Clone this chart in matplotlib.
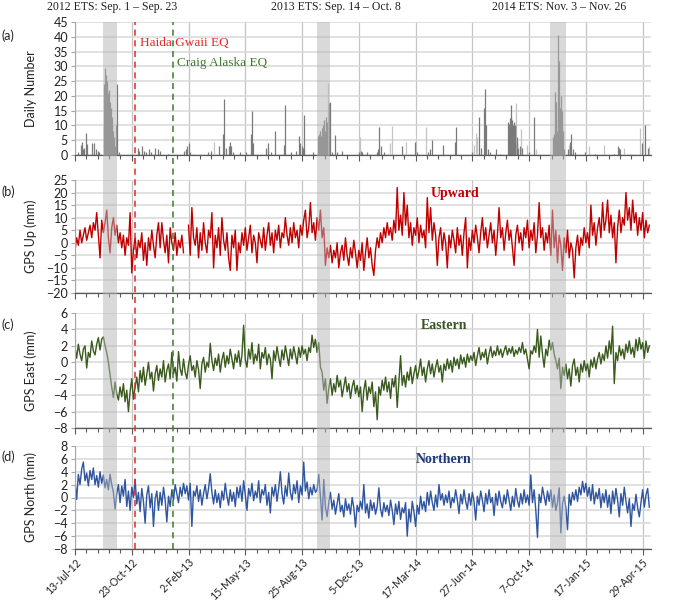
import numpy as np
import pandas as pd
import matplotlib
matplotlib.use("Agg")
import matplotlib.pyplot as plt
from matplotlib.ticker import FixedLocator, NullFormatter

start = pd.Timestamp("2012-07-13")
end_day = 1035

# tremor daily number, (day after 13-Jul-12, count)
tremor_days = [5, 10, 13, 15, 17, 19, 22, 30, 34, 37, 42, 44,
               52, 53, 54, 55, 56, 57, 58, 59, 60, 61, 62, 63, 64, 65, 66, 67, 68, 69, 70, 71, 73, 76, 79,
               103, 114, 115, 121, 124, 127, 133, 136, 144, 150, 152, 168, 196, 199, 202, 204, 206,
               239, 244, 259, 266, 267, 272, 277, 279, 281, 284, 296, 307, 317, 318, 320,
               344, 346, 347, 353, 359, 375, 377, 388, 398, 403, 405, 407, 409, 411, 412, 427,
               436, 438, 440, 442, 444, 446, 448, 449, 451, 453, 456, 458,
               462, 468, 471, 479, 510, 514, 516, 525, 542, 544, 546, 549, 555, 587, 611, 614,
               635, 638, 642, 662, 682, 685, 714, 726, 729, 735, 737, 739, 742, 745, 756, 764,
               778, 779, 780, 782, 783, 784, 785, 786, 787, 788, 789, 790, 791, 794, 795, 796,
               799, 803, 815, 824,
               859, 861, 863, 864, 865, 866, 868, 869, 870, 871, 872, 873, 875, 876, 878,
               886, 890, 892, 894, 899, 917, 934, 968, 976, 978, 980, 1018, 1025, 1029]
tremor_counts = [1, 3.5, 4.5, 2, 2.5, 7.3, 3.7, 4, 4, 2, 1.5, 1,
                 10, 24, 29.5, 27, 23, 25, 22, 21, 18, 22, 15, 18, 12, 16, 10, 13, 8, 5, 6, 3, 10, 24, 1,
                 0.5, 2.5, 1.5, 3, 1.5, 1, 2, 1, 2.5, 2, 1.5, 0.5, 1.5, 2, 3, 4, 1,
                 1, 1.5, 3, 7, 19, 2.5, 3, 4.5, 3, 1, 1, 1, 7, 15, 4,
                 2.5, 4, 1.5, 1, 8, 3.5, 17, 1, 1.5, 6.5, 4, 3, 2.5, 13.5, 2, 1,
                 6.5, 7, 8, 6.5, 9, 10, 12, 8, 13, 11, 17.5, 18,
                 1, 6.8, 1, 1.5, 1, 1.5, 1, 1, 1, 2, 9.5, 3, 1, 3, 4.5, 1,
                 1, 2, 5, 3.5, 4.5, 9.5, 1, 13, 2.5, 16, 22.5, 10, 2, 1, 2, 0.5,
                 11, 7, 10.5, 12.5, 17, 13, 7, 12, 10, 8, 11, 9.8, 10, 6, 4, 2.5,
                 3, 2.5, 1, 12.8,
                 6.2, 7, 21.3, 18, 15, 8, 40.5, 6, 31.8, 16, 9, 20, 15, 8, 2,
                 2, 4.5, 7, 2, 1, 1, 0.5, 0.5, 3, 2.5, 2, 4, 10.3, 2.5]
# paler bars
tremor_light_days = [250, 454, 512, 566, 570, 595, 630, 717, 720, 723, 793, 801, 813, 829,
                     888, 924, 950, 987, 1016, 1032]
tremor_light_counts = [4.5, 24.4, 6, 4, 9.9, 4.5, 9.5, 3.5, 7.5, 6, 17.5, 8.9, 3.5, 2,
                       3.5, 3, 3.5, 2.5, 9, 3]

# GPS daily solutions, read every 3 days from 13-Jul-12 (mm)
gps_step = 3
gps_up = [
    -3, 2, -1, 5, 0, 3, 6, 1, 4, 7, 2, 8, 5, 12, 3, -6, 9,
    4, 8, 13, 2, -4, 6, 10, 3, 7, 0, 4, -2, 3, -5, 2, -1, 12,
    -12, -3, 2, -6, 1, -2, 4, -7, 0, -9, 2, -3, 5, -1, -6, 3, 8,
    -2, 8, 1, -4, 3, -8, 6, 0, -3, 4, -5, 1, -2, 3, -4, np.nan, np.nan,
    7, -5, 14, 2, -1, 6, -6, 4, -3, 8, 0, -4, 5, 2, 12, -10, 3,
    -2, 6, -5, 10, 1, -3, 4, -6, -11, 3, -2, 5, -11, 0, -4, 4, -1,
    6, -3, 2, 7, -4, 3, 0, -8, 4, 1, -2, 6, -3, 3, 8, -1, 4,
    -4, 5, 1, 7, -2, 4, 2, 10, 3, -1, 6, 0, 8, 2, 5, -2, 7,
    3, 9, 13, 2, 6, 16, 4, 8, 1, 10, 5, 13, 2, 6, -9, -2, -6,
    -1, -8, -3, -6, 0, -10, -4, -1, -7, 2, -5, -9, -2, -6, 1, -4, -10,
    -3, -7, 0, -11, -4, 2, -6, -2, -9, -13, -3, 2, -2, 4, 0, 6, 2,
    8, 3, 6, 1, 9, 4, 22, 5, 11, 3, 20, 7, 15, 2, 8, -1, 6,
    3, 10, 0, 7, 2, 5, -2, 18, 4, 14, 1, 8, 3, -9, 2, 6, -3,
    4, 0, -10, 3, -2, 5, 1, -4, 6, -1, 3, -5, 4, 10, -10, 2, -3,
    5, 0, 7, 2, -4, 4, 10, 1, 6, -2, 3, 8, 0, 5, -5, 3, 14,
    2, 6, -3, 4, 9, 1, 5, -2, -9, 3, 7, 0, 4, -3, 6, 2, 9,
    -2, 5, 1, 8, -4, 3, 16, 2, 6, -3, 4, 0, 7, -5, 13, -2, 5,
    -8, 3, -1, -11, 2, -4, 5, -6, 0, -3, -14, -2, 3, -5, 2, -1, 6,
    0, 4, -2, 15, 3, 8, -1, 6, 10, 2, 16, 5, 9, 17, 4, 11, 2,
    8, -8, 6, 13, 4, 10, 7, 20, 9, 14, 5, 17, 8, 12, 3, 10, 5,
    12, 2, 9, 4, 7]
gps_east = [
    1.8, 0.5, 2.2, 1.0, 0.2, 1.6, 2.0, -0.7, 1.2, 0.6, 2.6, 1.4, 0.9, 2.2, 3.0, 1.5, 2.8,
    3.1, 2.0, 1.2, 0.0, -1.5, -3.0, -4.3, -2.4, -3.8, -4.6, -3.0, -4.2, -2.6, -4.8, -3.4, -6.0, -3.6,
    -2.0, -4.5, -3.0, -1.8, -3.6, -1.0, -2.4, -0.6, -2.8, -1.5, 0.0, -2.0, -1.2, -3.5, -1.4, -0.4, -2.2,
    -0.8, -1.8, 0.2, -2.4, -1.0, -0.2, -2.0, 1.2, -1.4, -0.6, -2.3, 1.3, -0.8, -1.6, 0.4, -1.2, -2.0,
    -0.3, 0.8, -1.0, -0.4, -1.8, 0.2, -0.9, -3.2, -0.2, 0.6, -1.2, 0.0, -0.6, 2.3, 0.2, -1.0, 0.5,
    -0.4, 1.0, -1.2, 0.3, 1.2, -0.6, 0.8, -0.2, 1.6, 0.4, -0.8, 1.0, 0.0, 1.4, -0.5, 0.9, 4.5,
    0.3, -0.6, 1.6, 0.4, 2.4, -0.2, 1.0, 0.2, 2.2, -0.8, 1.2, 0.5, 1.8, -0.3, 1.0, 0.4, -2.0,
    1.4, 0.2, 1.9, 0.6, -0.5, 1.5, 0.3, 2.0, 0.8, -0.4, 1.6, 0.4, 1.9, 0.9, -0.2, 1.8, 0.6,
    2.0, 1.0, 1.6, 0.2, 1.8, 1.2, 3.3, 1.8, 2.8, 1.2, 2.4, -0.6, -1.2, -3.4, -2.0, -5.0, -3.2,
    -2.0, -4.0, -2.6, -3.6, -1.6, -3.0, -2.2, -4.2, -3.0, -1.8, -3.6, -2.6, -4.4, -3.0, -2.2, -3.8, -2.8,
    -4.2, -3.0, -6.0, -3.4, -2.2, -4.6, -3.0, -3.8, -2.4, -5.4, -3.6, -7.0, -3.0, -4.0, -2.2, -3.4, -1.8,
    -3.6, -2.4, -4.4, -2.0, -3.0, -1.6, -5.5, -2.4, 0.8, -2.8, -1.6, -3.0, -1.2, -2.2, -0.6, -2.6, -1.4,
    -0.4, -2.0, -1.0, 0.4, -1.6, -0.6, -2.4, -0.8, 0.2, -1.4, -0.2, -1.8, -0.6, 0.3, -1.2, -0.4, -2.4,
    -0.2, -1.0, 0.4, -0.8, 0.2, -1.2, 0.6, -0.4, 0.4, -0.8, 0.9, -0.2, 0.6, -0.6, 1.0, 0.0, 0.8,
    0.2, 1.2, -0.4, 0.8, 1.8, 0.3, 1.2, 0.6, 1.6, -0.2, 1.0, 1.9, 0.6, 1.4, 0.8, 2.0, 0.9,
    1.6, 0.6, 1.4, 2.0, 0.9, 1.7, 1.1, 1.9, 0.7, 1.5, 1.0, 1.8, 1.2, 2.4, 1.0, 1.6, 0.4,
    -0.8, 1.4, 1.0, 2.0, 1.2, 4.0, 0.6, 3.2, 1.0, -0.6, 1.6, 0.8, 2.7, 1.5, 2.4, 1.0, 0.2,
    -0.8, 0.5, -3.2, -0.6, -1.6, -0.2, -2.0, -0.8, -2.9, -0.4, 0.4, -1.6, -0.6, -2.4, -0.2, -1.2, 0.2,
    -1.0, -0.2, -1.8, 0.3, -0.6, 0.6, -0.8, 0.4, 1.2, -0.2, 1.0, 0.2, 2.0, 0.5, 2.6, 1.0, 4.4,
    -2.6, 1.2, 0.2, 2.0, 0.8, 1.6, 0.4, 2.2, 1.2, 2.6, 1.0, 1.8, 0.6, 2.8, 1.4, 3.0, 1.6,
    2.4, 0.5, 2.6, 1.2, 2.0]
gps_north = [
    2.5, -0.3, 3.6, 2.0, 4.4, 5.5, 2.6, 3.8, 1.8, 4.2, 2.8, 4.6, 2.0, 3.4, 1.6, 4.0, 2.2,
    3.5, 1.5, 2.8, 1.2, 3.6, 2.0, 0.8, -1.8, 0.6, 2.0, -0.8, 1.8, 0.2, 2.8, -1.4, 1.0, -2.0,
    1.6, 0.0, 2.8, -1.0, 0.8, -2.2, 1.4, -0.6, -4.0, 0.4, 1.8, -1.6, 0.6, -4.5, -0.2, 1.0, -2.0,
    0.8, -1.2, 1.6, -0.4, -3.8, 0.2, -1.4, 1.2, -0.4, 2.0, 0.6, -0.8, 1.6, 0.2, 2.2, 0.6, 1.8,
    -0.4, 2.2, -4.5, 1.0, 0.2, 1.8, -0.6, 1.2, -1.2, 0.6, 2.0, -0.2, 1.4, 3.7, 0.8, -1.0, 1.2,
    -0.8, 0.6, -1.6, 1.0, -0.4, 2.2, 0.2, -1.2, 1.2, -0.6, 0.8, -1.4, 1.6, 0.0, 1.8, -0.6, 2.6,
    0.4, -2.0, 1.4, 0.2, 2.2, -0.5, 1.0, 0.0, 2.6, -0.8, 1.2, 0.4, 2.0, -1.2, 0.8, -2.4, 1.6,
    0.2, 2.0, -0.6, 1.4, 4.0, 0.6, -1.0, 1.8, 0.2, 3.8, 0.8, -0.4, 2.0, 0.6, 2.6, -0.8, 1.8,
    0.4, 5.5, 1.0, 2.4, -0.2, 1.6, 0.4, 2.0, 0.8, 1.2, 3.6, 0.2, -3.5, 2.8, -1.5, -3.0, -0.8,
    0.8, -1.8, -0.4, -2.6, -1.0, 0.6, -2.2, -1.2, -3.0, -0.2, -2.0, -1.0, -2.6, 0.0, -1.6, -4.6, -1.2,
    -2.2, -0.6, -1.8, 2.0, -2.4, -1.0, -3.2, -0.4, -2.0, -0.8, -2.6, -1.4, 1.5, -1.8, -3.0, -0.8, -2.2,
    -1.2, -2.8, -0.4, -2.0, -4.2, -1.0, -2.6, -0.6, -3.4, -1.6, -2.4, -0.8, -6.0, -1.8, -3.8, -0.6, -2.2,
    -4.5, -1.2, -2.6, 0.2, -1.8, -0.6, -2.2, 0.8, -1.2, 1.0, -0.8, -2.0, 0.4, -1.5, 2.0, -0.4, 0.6,
    -1.2, 0.4, -0.8, 1.0, -1.6, 0.0, -0.8, 1.2, -0.4, -2.5, 0.5, -1.0, 1.2, -0.6, -1.8, 0.6, -1.2,
    0.8, -0.6, -3.5, 0.2, -1.2, 1.0, -0.4, -2.2, 0.6, -1.0, 1.2, -0.8, 0.0, -2.8, 0.6, -1.2, 1.0,
    -0.6, -1.6, 0.4, -1.0, 1.2, -0.4, -2.0, 0.2, -1.4, 1.4, -0.5, -1.5, 0.6, -1.0, 1.2, -0.8, 0.4,
    -1.2, 3.5, -0.8, 1.2, -2.0, -6.2, 0.5, -0.8, 1.6, 0.2, -1.2, 1.0, -0.6, 1.2, -1.5, 0.4, -2.0,
    -0.8, 1.5, -5.5, -1.0, 0.2, -1.6, -5.0, 0.5, -1.2, 0.8, -0.4, 1.2, -0.6, 1.6, 0.4, 2.5, 0.8,
    2.2, 0.2, 1.6, -0.5, 2.0, -1.0, 0.8, -0.2, 1.4, -1.6, 0.6, -0.8, 1.2, -1.5, 0.4, -2.5, 1.0,
    -1.0, 1.4, -0.4, -3.0, 0.6, -1.2, 1.6, -0.6, -2.4, -0.2, -4.5, -1.0, -2.0, 0.5, -1.6, -3.0, -0.8,
    1.2, -1.5, 0.4, 1.4, -1.5]

ets_bands = [("2012-09-01", "2012-09-26"), ("2013-09-20", "2013-10-14"), ("2014-11-14", "2014-12-12")]
ets_titles = ["2012 ETS: Sep. 1 – Sep. 23", "2013 ETS: Sep. 14 – Oct. 8", "2014 ETS: Nov. 3 – Nov. 26"]
eq_dates = ["2012-10-28", "2013-01-05"]
eq_names = ["Haida Gwaii EQ", "Craig Alaska EQ"]
eq_colors = ["#e8262a", "#3f7a2c"]
tick_dates = pd.date_range("2012-07-13", periods=11, freq="102D")


def day_of(s):
    return (pd.Timestamp(s) - start).days


gps_days = np.arange(len(gps_up)) * gps_step
tick_days = [(d - start).days for d in tick_dates]
tick_labels = [f"{d.day}-{d.strftime('%b-%y')}" for d in tick_dates]

SANS = ["Lato", "DejaVu Sans"]
SERIF = "Liberation Serif"
plt.rcParams["font.family"] = SANS

W_PX, H_PX = 685, 605
fig = plt.figure(figsize=(W_PX / 100, H_PX / 100), dpi=100)
x0, x1 = 75, 651


def box(top, bottom):
    return [x0 / W_PX, 1 - bottom / H_PX, (x1 - x0) / W_PX, (bottom - top) / H_PX]


panels = [(22, 155), (180, 293), (313, 428), (446, 549)]
axes = [fig.add_axes(box(t, b)) for t, b in panels]


def style(ax, ylo, yhi, ystep, ylabel, tag):
    ax.set_xlim(0, end_day)
    ax.set_ylim(ylo, yhi)
    ax.set_yticks(np.arange(ylo, yhi + 0.1, ystep))
    ax.xaxis.set_major_locator(FixedLocator(tick_days))
    ax.xaxis.set_minor_locator(FixedLocator(np.arange(0, end_day, 20.4)))
    ax.xaxis.set_minor_formatter(NullFormatter())
    ax.set_xticklabels([])
    for s in ["top", "right"]:
        ax.spines[s].set_visible(False)
    ax.spines["left"].set_color("#a6a6a6")
    ax.spines["bottom"].set_color("#595959")
    ax.spines["bottom"].set_linewidth(0.9)
    ax.tick_params(axis="x", which="both", direction="out", color="#595959", length=4, width=0.8,
                   pad=1.5)
    ax.tick_params(axis="x", which="minor", length=3)
    ax.tick_params(axis="y", direction="out", color="#a6a6a6", length=3, labelsize=9,
                   labelcolor="#222222", pad=2)
    ax.grid(axis="y", color="#d9d9d9", lw=1.1)
    ax.grid(axis="x", which="major", color="#c4c4c4", lw=0.9)
    ax.set_axisbelow(True)
    ax.set_ylabel(ylabel, fontsize=9, color="#222222")
    ax.yaxis.set_label_coords(-0.066, 0.5)
    ax.text(-0.128, 0.9, tag, transform=ax.transAxes, fontsize=9, color="#222222",
            ha="left", va="center")


ax_a, ax_b, ax_c, ax_d = axes
style(ax_a, 0, 45, 5, "Daily Number", "(a)")
style(ax_b, -20, 25, 5, "GPS Up (mm)", "(b)")
style(ax_c, -8, 6, 2, "GPS East (mm)", "(c)")
style(ax_d, -8, 8, 2, "GPS North (mm)", "(d)")

ax_a.vlines(tremor_light_days, 0, tremor_light_counts, color="#c4c4c4", lw=0.9)
ax_a.vlines(tremor_days, 0, tremor_counts, color="#7a7a7a", lw=0.9)

ax_b.plot(gps_days, gps_up, color="#c00000", lw=1.0)
ax_c.plot(gps_days, gps_east, color="#3a5a1e", lw=1.0)
ax_d.plot(gps_days, gps_north, color="#2f55a0", lw=1.0)

ax_b.text(0.66, 0.88, "Upward", transform=ax_b.transAxes, family=SERIF, fontweight="bold",
          fontsize=10, color="#c00000", ha="center", va="center")
ax_c.text(0.64, 0.89, "Eastern", transform=ax_c.transAxes, family=SERIF, fontweight="bold",
          fontsize=10, color="#375623", ha="center", va="center")
ax_d.text(0.64, 0.87, "Northern", transform=ax_d.transAxes, family=SERIF, fontweight="bold",
          fontsize=10, color="#1f3a7a", ha="center", va="center")

ax_d.set_xticklabels(tick_labels, rotation=45, ha="right", rotation_mode="anchor",
                     fontsize=7.6, color="#222222")

# ETS bands and earthquake lines span all panels
top_a, bot_d = panels[0][0], panels[3][1]
over = fig.add_axes(box(top_a, bot_d), facecolor="none")
over.set_xlim(0, end_day)
over.set_ylim(0, 1)
over.axis("off")
for s, e in ets_bands:
    over.axvspan(day_of(s), day_of(e), color="#b5b5b5", alpha=0.5, lw=0)
for d, c in zip(eq_dates, eq_colors):
    over.axvline(day_of(d), color=c, lw=1.1, ls=(0, (4, 3)))

ax_a.text(day_of(eq_dates[0]) + 10, 38, eq_names[0], family=SERIF, fontsize=9.5,
          color=eq_colors[0], va="center")
ax_a.text(day_of(eq_dates[1]) + 8, 31, eq_names[1], family=SERIF, fontsize=9.5,
          color=eq_colors[1], va="center")

title_x = [112, 336, 559]
for tx, t in zip(title_x, ets_titles):
    fig.text(tx / W_PX, 1 - 7 / H_PX, t, family=SERIF, fontsize=8.5, ha="center", va="center",
             color="#222222")

fig.savefig("out.png", dpi=100)
